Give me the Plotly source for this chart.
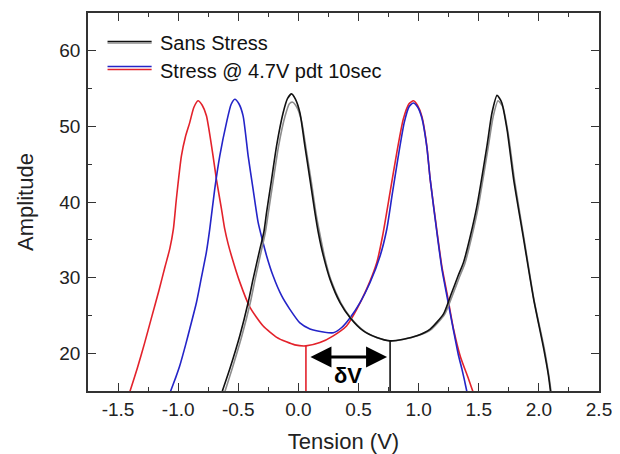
import numpy as np
import plotly.graph_objects as go

# ---- data ----
sans_x = [-0.645, -0.632, -0.571, -0.4875, -0.418, -0.377, -0.32, -0.2875, -0.265, -0.223, -0.182, -0.127, -0.09,
          -0.057, -0.025, 0.0125, 0.054, 0.096, 0.1375, 0.165, 0.207, 0.2625, 0.346, 0.43, 0.54, 0.652, 0.7625,
          0.873, 0.985, 1.096, 1.207, 1.27, 1.33, 1.373, 1.43, 1.485, 1.568, 1.61, 1.652, 1.69, 1.735, 1.79,
          1.873, 1.957, 2.04, 2.08, 2.10]
sans_y = [14.3, 15.0, 17.9, 22.3, 26.7, 29.8, 33.8, 36.0, 38.6, 43.0, 47.4, 51.8, 53.7,
          54.3, 53.6, 51.8, 47.4, 43.0, 38.6, 36.0, 32.9, 29.8, 26.7, 24.7, 22.95, 22.07, 21.63,
          21.85, 22.3, 23.2, 25.2, 27.8, 30.3, 32.0, 35.5, 39.5, 47.4, 51.8, 54.1, 53.2, 49.6, 43.0,
          35.1, 27.1, 20.6, 17.0, 14.5]

sans2_x = [-0.625, -0.61, -0.55, -0.47, -0.40, -0.36, -0.305, -0.275, -0.25, -0.208, -0.165, -0.112, -0.075,
           -0.048, -0.015, 0.025, 0.066, 0.108, 0.148, 0.178, 0.218, 0.272, 0.355, 0.44, 0.55, 0.66, 0.77,
           0.88, 0.99, 1.10, 1.215, 1.28, 1.34, 1.385, 1.44, 1.495, 1.575, 1.62, 1.66, 1.70, 1.745, 1.80,
           1.88, 1.96, 2.045, 2.085, 2.105]
sans2_y = [14.3, 15.0, 18.0, 22.3, 26.7, 29.8, 33.8, 36.0, 38.6, 43.0, 47.4, 51.3, 53.0,
           53.2, 52.6, 50.8, 46.8, 42.6, 38.3, 35.8, 32.7, 29.6, 26.6, 24.6, 22.9, 22.0, 21.6,
           21.85, 22.3, 23.1, 25.1, 27.6, 30.1, 31.9, 35.3, 39.3, 46.9, 51.3, 53.4, 52.6, 49.0, 42.6,
           34.8, 27.0, 20.6, 16.8, 14.5]

red_x = [-1.42, -1.40, -1.34, -1.28, -1.22, -1.16, -1.11, -1.07, -1.04, -1.015, -0.973, -0.94, -0.904,
         -0.87, -0.835, -0.80, -0.765, -0.71, -0.682, -0.64, -0.6125, -0.585, -0.557, -0.4875, -0.404, -0.293,
         -0.18, -0.10, -0.03, 0.0625, 0.179, 0.29, 0.40, 0.485, 0.568, 0.652, 0.70, 0.7625, 0.818, 0.873, 0.92,
         0.957, 0.99, 1.027, 1.068, 1.096, 1.15, 1.193, 1.235, 1.29, 1.346, 1.415, 1.45, 1.47]
red_y = [14.0, 15.0, 18.0, 21.3, 24.8, 28.3, 31.4, 33.8, 36.4, 40.4, 46.1, 48.6, 50.5,
         52.5, 53.4, 52.8, 51.4, 46.1, 43.0, 39.1, 36.4, 34.5, 32.9, 29.4, 26.1, 23.6,
         22.1, 21.5, 21.1, 20.97, 21.4, 22.3, 23.6, 25.8, 28.5, 32.0, 35.5, 41.3, 46.5, 51.0, 53.0,
         53.4, 52.8, 51.3, 47.4, 43.0, 36.4, 31.5, 28.0, 23.2, 19.6, 16.6, 15.0, 14.3]

blue_x = [-1.08, -1.0625, -1.02, -0.9875, -0.94, -0.904, -0.848, -0.807, -0.765, -0.7375, -0.696, -0.654, -0.598,
          -0.56, -0.529, -0.495, -0.46, -0.418, -0.377, -0.335, -0.30, -0.265, -0.21, -0.14, -0.071, 0.0125,
          0.096, 0.207, 0.29, 0.36, 0.43, 0.5125, 0.596, 0.68, 0.735, 0.78, 0.83, 0.88, 0.92, 0.955, 0.99,
          1.027, 1.068, 1.096, 1.15, 1.193, 1.235, 1.29, 1.33, 1.36, 1.38, 1.40, 1.41]
blue_y = [14.3, 15.0, 16.8, 18.3, 21.0, 23.2, 26.7, 30.0, 33.4, 36.4, 41.7, 46.1, 50.5,
          52.9, 53.6, 53.0, 51.4, 46.1, 41.7, 37.3, 35.0, 32.9, 30.2, 27.6, 25.8, 24.0,
          23.2, 22.8, 22.7, 23.4, 24.7, 26.7, 29.35, 32.9, 36.4, 41.0, 46.0, 50.5, 52.6, 53.1, 52.6,
          51.1, 47.3, 43.0, 36.2, 31.2, 27.6, 23.0, 19.8, 17.9, 16.5, 15.0, 14.3]

x_ticks = [-1.5, -1.0, -0.5, 0.0, 0.5, 1.0, 1.5, 2.0, 2.5]
y_ticks = [20, 30, 40, 50, 60]

RED = "#e3222b"
BLUE = "#2424c8"
BLACK = "#111111"
GRAY = "#8c8c8c"
FONT = "Liberation Sans, Arial, sans-serif"

fig = go.Figure()
fig.add_trace(go.Scatter(x=red_x, y=red_y, mode="lines", line=dict(color=RED, width=1.6, shape="spline", smoothing=0.6)))
fig.add_trace(go.Scatter(x=blue_x, y=blue_y, mode="lines", line=dict(color=BLUE, width=1.6, shape="spline", smoothing=0.6)))
fig.add_trace(go.Scatter(x=sans2_x, y=sans2_y, mode="lines", line=dict(color=GRAY, width=1.6, shape="spline", smoothing=0.6)))
fig.add_trace(go.Scatter(x=sans_x, y=sans_y, mode="lines", line=dict(color=BLACK, width=1.6, shape="spline", smoothing=0.6)))

# valley minima (from data) -> vertical markers and delta V arrow
rx, ry = np.array(red_x), np.array(red_y)
bx, by = np.array(sans_x), np.array(sans_y)
mr = (rx > -0.5) & (rx < 0.5)
mb = (bx > 0.3) & (bx < 1.2)
r_i = np.argmin(np.where(mr, ry, np.inf))
b_i = np.argmin(np.where(mb, by, np.inf))
red_min_x, red_min_y = float(rx[r_i]), float(ry[r_i])
blk_min_x, blk_min_y = float(bx[b_i]), float(by[b_i])

fig.add_trace(go.Scatter(x=[red_min_x, red_min_x], y=[14, red_min_y], mode="lines", line=dict(color=RED, width=1.6)))
fig.add_trace(go.Scatter(x=[blk_min_x, blk_min_x], y=[14, blk_min_y], mode="lines", line=dict(color=BLACK, width=1.6)))

arrow_y = 19.5
fig.add_annotation(x=blk_min_x, y=arrow_y, ax=red_min_x, ay=arrow_y, xref="x", yref="y", axref="x", ayref="y",
                   text="", showarrow=True, arrowhead=2, startarrowhead=2, arrowside="end+start",
                   arrowwidth=3, arrowsize=1.4, startarrowsize=1.4, arrowcolor="black",
                   standoff=3, startstandoff=3)
fig.add_annotation(x=(red_min_x + blk_min_x) / 2, y=17.0, xref="x", yref="y", text="<b>δV</b>",
                   showarrow=False, font=dict(family=FONT, size=22, color="black"))

# manual legend (positions in window pixels -> paper fraction)
def px2px(px):
    return (px - 88.5) / 510.0

def py2py(py):
    return (391.0 - py) / 378.0

legend_lines = [(41.5, BLACK), (43.0, GRAY), (66.5, BLUE), (69.5, RED)]
for py, col in legend_lines:
    fig.add_shape(type="line", xref="paper", yref="paper", x0=px2px(108), x1=px2px(152),
                  y0=py2py(py), y1=py2py(py), line=dict(color=col, width=1.6))
fig.add_annotation(x=px2px(158), y=py2py(43), xref="paper", yref="paper", text="Sans Stress",
                   showarrow=False, xanchor="left", yanchor="middle", font=dict(family=FONT, size=20, color="#111"))
fig.add_annotation(x=px2px(158), y=py2py(71), xref="paper", yref="paper", text="Stress @ 4.7V pdt 10sec",
                   showarrow=False, xanchor="left", yanchor="middle", font=dict(family=FONT, size=20, color="#111"))

axis_common = dict(showline=True, linecolor="#333", linewidth=1.5, mirror="allticks", ticks="inside",
                   ticklen=8, tickwidth=1.3, tickcolor="#333", showgrid=False, zeroline=False,
                   automargin=False,
                   tickfont=dict(family=FONT, size=19, color="#222"))
fig.update_xaxes(range=[-1.75, 2.5], tickvals=x_ticks, ticktext=[f"{v:.1f}" for v in x_ticks],
                 ticklabelstandoff=0,
                 minor=dict(dtick=0.25, ticks="inside", ticklen=4, tickwidth=1.2, tickcolor="#333"),
                 title=dict(text="Tension (V)", font=dict(family=FONT, size=22, color="#222"), standoff=20),
                 **axis_common)
fig.update_yaxes(range=[15, 65], tickvals=y_ticks, ticklabelstandoff=2,
                 minor=dict(dtick=5, ticks="inside", ticklen=4, tickwidth=1.2, tickcolor="#333"),
                 title=dict(text="Amplitude", font=dict(family=FONT, size=22, color="#222"), standoff=20),
                 **axis_common)
# page body has an 8px margin, so the figure is 612x446 and offset accordingly
fig.update_layout(width=612, height=446, margin=dict(l=80, r=21, t=5, b=63),
                  plot_bgcolor="white", paper_bgcolor="white", showlegend=False)

fig.write_html("out.html")
